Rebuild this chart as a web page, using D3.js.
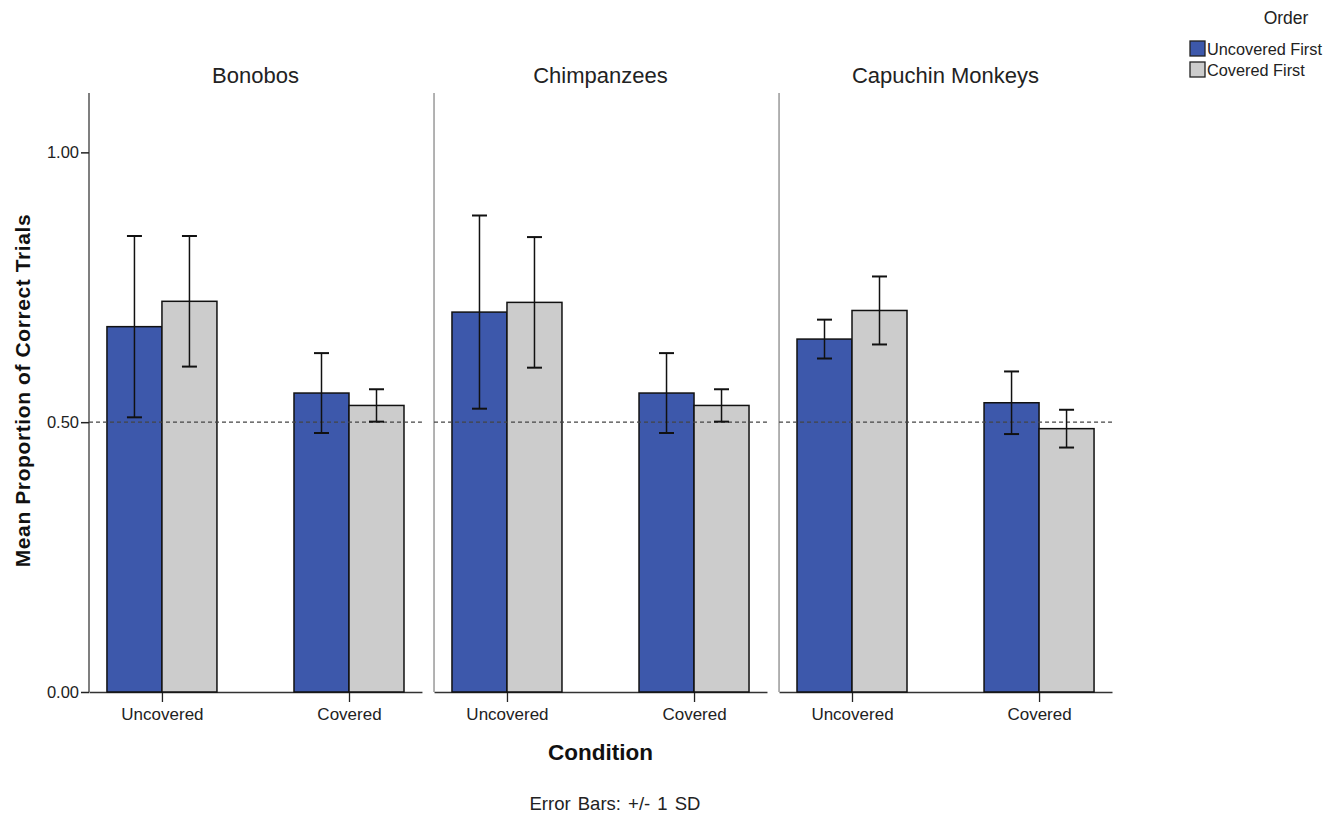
<!DOCTYPE html>
<html>
<head>
<meta charset="utf-8">
<script src="https://cdn.jsdelivr.net/npm/d3@7"></script>
<style>
  body { margin: 0; background: #fff; }
  svg { font-family: "Liberation Sans", Arial, sans-serif; }
</style>
</head>
<body>
<div id="chart"></div>
<script>
// data
const species = ['Bonobos', 'Chimpanzees', 'Capuchin Monkeys'];
const conditions = ['Uncovered', 'Covered'];
const orders = ['Uncovered First', 'Covered First'];
const orderColors = ['#3d58ab', '#cccccc'];
const yTicks = [0, 0.5, 1.0];
const chance = 0.5;

// means[species][condition][order]
const means = [
    [[0.677, 0.724], [0.554, 0.531]],
    [[0.704, 0.722], [0.554, 0.531]],
    [[0.654, 0.707], [0.536, 0.488]]
];
const sds = [
    [[0.168, 0.121], [0.074, 0.030]],
    [[0.179, 0.121], [0.074, 0.030]],
    [[0.036, 0.063], [0.058, 0.035]]
];

const width = 1338, height = 816;
const plotLeft = 89, plotRight = 1112, plotTop = 93, plotBottom = 692;
const font = '"Liberation Sans", Arial, sans-serif';

const svg = d3.select('#chart').append('svg')
    .attr('width', width)
    .attr('height', height);

const facet = d3.scaleBand()
    .domain(species)
    .range([plotLeft, plotRight])
    .paddingInner(0.035)
    .paddingOuter(0);

const xCond = d3.scalePoint()
    .domain(conditions)
    .range([0, facet.bandwidth()])
    .padding(0.39);

const barW = 55;
const xOrder = d3.scaleBand()
    .domain(orders)
    .range([-barW, barW]);

const y = d3.scaleLinear()
    .domain([0, 1.11])
    .range([plotBottom, plotTop]);

const rows = [];
species.forEach((s, si) => {
    conditions.forEach((c, ci) => {
        orders.forEach((o, oi) => {
            rows.push({ s, c, o, oi, mean: means[si][ci][oi], sd: sds[si][ci][oi] });
        });
    });
});

species.forEach((s, si) => {
    const g = svg.append('g')
        .attr('transform', `translate(${facet(s)},0)`);

    // bottom axis
    const xAxis = g.append('g')
        .attr('transform', `translate(0,${plotBottom})`)
        .call(d3.axisBottom(xCond).tickSize(10).tickPadding(6).tickSizeOuter(0));
    xAxis.select('.domain').attr('stroke', '#333').attr('stroke-width', 1.3);
    xAxis.selectAll('.tick line').attr('stroke', '#222').attr('stroke-width', 1.3);
    xAxis.selectAll('.tick text')
        .attr('font-size', 17)
        .attr('fill', '#222')
        .attr('font-family', font);

    // left frame line
    g.append('line')
        .attr('x1', 0).attr('x2', 0)
        .attr('y1', plotTop).attr('y2', plotBottom)
        .attr('stroke', si === 0 ? '#555' : '#999')
        .attr('stroke-width', 1.5);

    // panel title
    g.append('text')
        .attr('x', facet.bandwidth() / 2)
        .attr('y', 83)
        .attr('text-anchor', 'middle')
        .attr('font-size', 22)
        .attr('fill', '#222')
        .text(s);

    const data = rows.filter(r => r.s === s);

    g.selectAll('rect.bar')
        .data(data)
        .join('rect')
        .attr('class', 'bar')
        .attr('x', d => xCond(d.c) + xOrder(d.o))
        .attr('y', d => y(d.mean))
        .attr('width', xOrder.bandwidth())
        .attr('height', d => y(0) - y(d.mean))
        .attr('fill', d => orderColors[d.oi])
        .attr('stroke', '#111')
        .attr('stroke-width', 1.5);

    // chance line
    g.append('line')
        .attr('x1', 0).attr('x2', facet.bandwidth())
        .attr('y1', y(chance)).attr('y2', y(chance))
        .attr('stroke', '#444')
        .attr('stroke-width', 1.2)
        .attr('stroke-dasharray', '4,3');

    // error bars
    const eb = g.selectAll('g.err')
        .data(data)
        .join('g')
        .attr('class', 'err')
        .attr('transform', d => `translate(${xCond(d.c) + xOrder(d.o) + xOrder.bandwidth() / 2},0)`);
    eb.append('line')
        .attr('y1', d => y(d.mean + d.sd))
        .attr('y2', d => y(d.mean - d.sd))
        .attr('stroke', '#111').attr('stroke-width', 1.5);
    eb.append('line')
        .attr('x1', -7.5).attr('x2', 7.5)
        .attr('y1', d => y(d.mean + d.sd)).attr('y2', d => y(d.mean + d.sd))
        .attr('stroke', '#111').attr('stroke-width', 2);
    eb.append('line')
        .attr('x1', -7.5).attr('x2', 7.5)
        .attr('y1', d => y(d.mean - d.sd)).attr('y2', d => y(d.mean - d.sd))
        .attr('stroke', '#111').attr('stroke-width', 2);
});

// y axis
const yAxis = svg.append('g')
    .attr('transform', `translate(${plotLeft},0)`)
    .call(d3.axisLeft(y).tickValues(yTicks).tickFormat(d3.format('.2f')).tickSize(8).tickPadding(2).tickSizeOuter(0));
yAxis.select('.domain').remove();
yAxis.selectAll('.tick line').attr('stroke', '#222').attr('stroke-width', 1.5);
yAxis.selectAll('.tick text')
    .attr('font-size', 16.5)
    .attr('fill', '#222')
    .attr('font-family', font);

// axis titles
svg.append('text')
    .attr('transform', `translate(30,${(plotTop + plotBottom) / 2 - 2}) rotate(-90)`)
    .attr('text-anchor', 'middle')
    .attr('font-size', 21)
    .attr('font-weight', 'bold')
    .attr('letter-spacing', 0.6)
    .attr('fill', '#111')
    .text('Mean Proportion of Correct Trials');

svg.append('text')
    .attr('x', (plotLeft + plotRight) / 2)
    .attr('y', 760)
    .attr('text-anchor', 'middle')
    .attr('font-size', 22.5)
    .attr('font-weight', 'bold')
    .attr('fill', '#111')
    .text('Condition');

svg.append('text')
    .attr('x', 615)
    .attr('y', 810)
    .attr('text-anchor', 'middle')
    .attr('font-size', 18.5)
    .attr('word-spacing', 2)
    .attr('fill', '#222')
    .text('Error Bars: +/- 1 SD');

// legend
const legend = svg.append('g').attr('transform', 'translate(1190,0)');
legend.append('text')
    .attr('x', 96).attr('y', 24)
    .attr('text-anchor', 'middle')
    .attr('font-size', 17.5)
    .attr('fill', '#222')
    .text('Order');
const li = legend.selectAll('g.item')
    .data(orders)
    .join('g')
    .attr('class', 'item')
    .attr('transform', (d, i) => `translate(0,${41 + i * 21})`);
li.append('rect')
    .attr('width', 15).attr('height', 15)
    .attr('fill', (d, i) => orderColors[i])
    .attr('stroke', '#222')
    .attr('stroke-width', 1.3);
li.append('text')
    .attr('x', 17).attr('y', 13.5)
    .attr('font-size', 16.3)
    .attr('fill', '#222')
    .text(d => d);
</script>
</body>
</html>
